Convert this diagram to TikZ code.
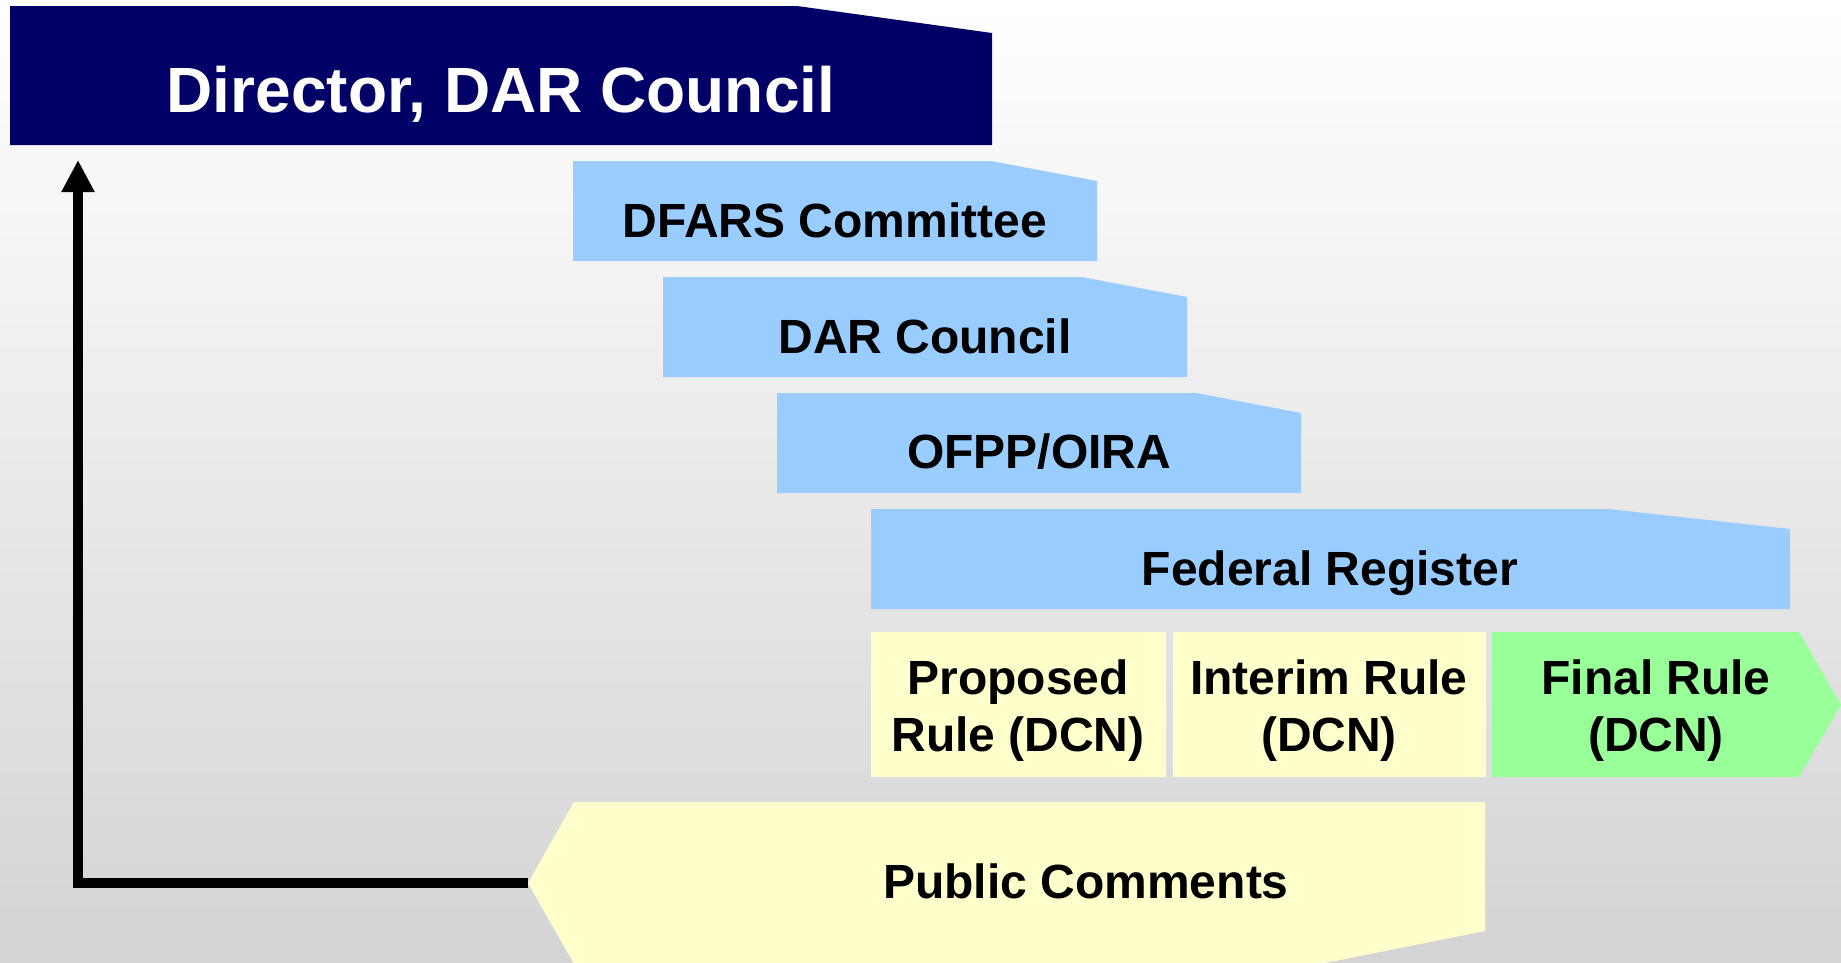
\documentclass[tikz,border=0pt]{standalone}
\usepackage{fontspec}
\setmainfont{Liberation Sans}
\usepackage{tikz}
\usetikzlibrary{arrows.meta}

\definecolor{darnavy}{HTML}{000066}
\definecolor{darblue}{HTML}{99CCFF}
\definecolor{daryellow}{HTML}{FFFFCC}
\definecolor{dargreen}{HTML}{99FF99}
\definecolor{bggray}{HTML}{D4D4D4}

\begin{document}
\begin{tikzpicture}[x=1pt,y=-1pt,
    boxtext/.style={anchor=base,inner sep=0pt,font=\bfseries\fontsize{48}{57}\selectfont},
    ruletext/.style={anchor=center,inner sep=0pt,align=center,font=\bfseries\fontsize{48}{57}\selectfont}]
        \useasboundingbox (0,0) rectangle (1841,962);
        \clip (0,0) rectangle (1841,962);
        \shade[top color=white,bottom color=bggray] (0,0) rectangle (1841,962);

        % stair of boxes
        \fill[darnavy] (10,6) -- (797,6) -- (992,33) -- (992,145) -- (10,145) -- cycle;
        \fill[darblue] (573,161) -- (991,161) -- (1097,181) -- (1097,261) -- (573,261) -- cycle;
        \fill[darblue] (663,277) -- (1082,277) -- (1187,297) -- (1187,377) -- (663,377) -- cycle;
        \fill[darblue] (777,393) -- (1196,393) -- (1301,413) -- (1301,493) -- (777,493) -- cycle;
        \fill[darblue] (871,509) -- (1608,509) -- (1790,529) -- (1790,609) -- (871,609) -- cycle;
        \fill[daryellow] (871,632) rectangle (1166,777);
        \fill[daryellow] (1173,632) rectangle (1486,777);
        \fill[dargreen] (1492,632) -- (1799,632) -- (1841,705) -- (1799,777) -- (1492,777) -- cycle;

        \coordinate (pubtip) at (528,883);
        \coordinate (dirfoot) at (78,160);
        \draw[line width=10pt,-{Triangle[width=31pt,length=32pt]}] (pubtip) -| (dirfoot);

        \fill[daryellow] (pubtip) -- (574,802) -- (1485,802) -- (1485,931) -- (1320,964) -- (574,964) -- cycle;

        \node[boxtext,text=white,font=\bfseries\fontsize{64}{70}\selectfont] (dir) at (501,112) {Director, DAR Council};
        \node[boxtext] (dfars) at (835,237) {DFARS Committee};
        \node[boxtext] (darc) at (925,353) {DAR Council};
        \node[boxtext] (ofpp) at (1039,468) {OFPP/OIRA};
        \node[boxtext] (fedreg) at (1330,585) {Federal Register};
        \node[ruletext] (proposed) at (1018,711) {Proposed\\Rule (DCN)};
        \node[ruletext] (interim) at (1329,711) {Interim Rule\\(DCN)};
        \node[ruletext] (final) at (1656,711) {Final Rule\\(DCN)};
        \node[boxtext] (pub) at (1086,898) {Public Comments};
    \end{tikzpicture}
\end{document}
